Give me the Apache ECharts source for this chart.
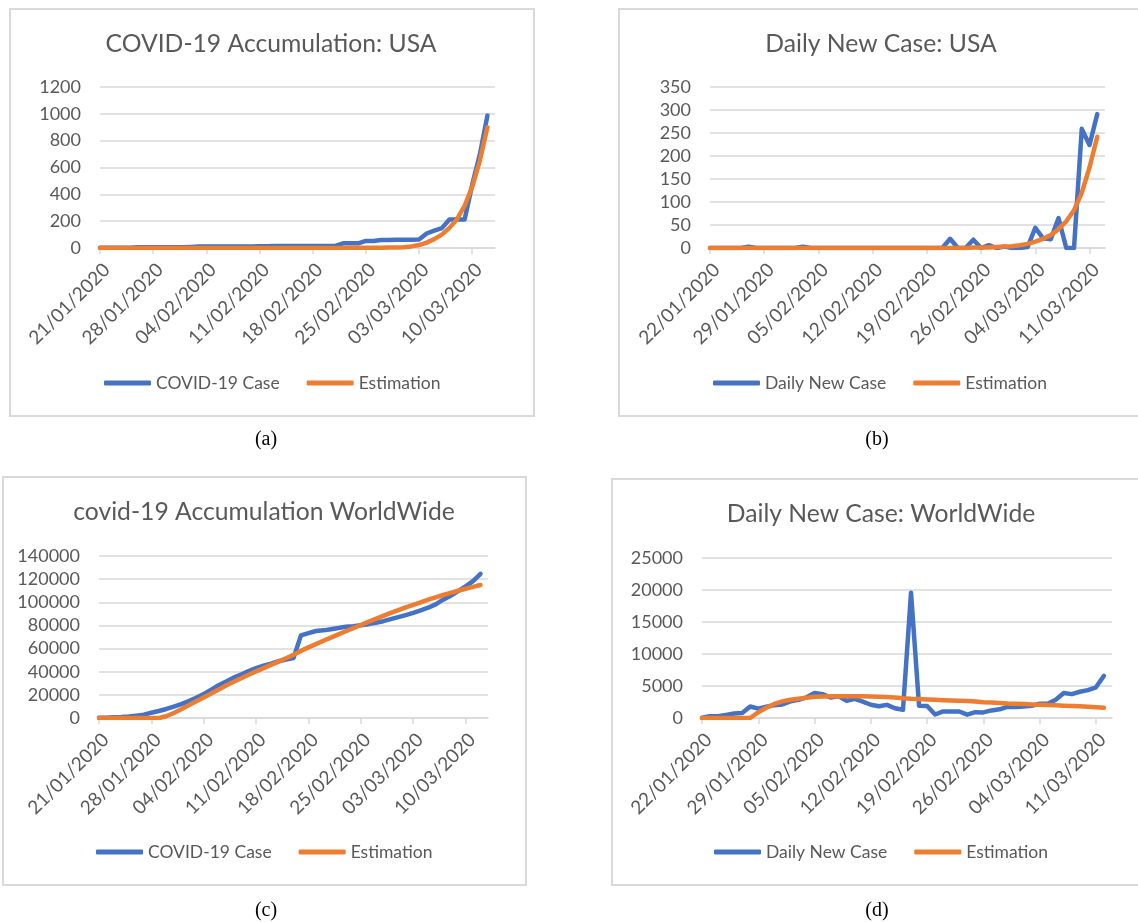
<!DOCTYPE html>
<html>
<head>
<meta charset="utf-8">
<title>COVID-19 cases and estimation</title>
<script src="https://cdn.jsdelivr.net/npm/echarts@6.0.0/dist/echarts.min.js"></script>
<style>
    html, body { margin: 0; padding: 0; background: #fff; }
    #main { width: 1138px; height: 922px; }
</style>
</head>
<body>
<div id="main"></div>
<script>
    // dates on the horizontal axis, 21/01/2020 .. 13/03/2020
    var days = [
        '21/01/2020','22/01/2020','23/01/2020','24/01/2020','25/01/2020','26/01/2020','27/01/2020',
        '28/01/2020','29/01/2020','30/01/2020','31/01/2020','01/02/2020','02/02/2020','03/02/2020',
        '04/02/2020','05/02/2020','06/02/2020','07/02/2020','08/02/2020','09/02/2020','10/02/2020',
        '11/02/2020','12/02/2020','13/02/2020','14/02/2020','15/02/2020','16/02/2020','17/02/2020',
        '18/02/2020','19/02/2020','20/02/2020','21/02/2020','22/02/2020','23/02/2020','24/02/2020',
        '25/02/2020','26/02/2020','27/02/2020','28/02/2020','29/02/2020','01/03/2020','02/03/2020',
        '03/03/2020','04/03/2020','05/03/2020','06/03/2020','07/03/2020','08/03/2020','09/03/2020',
        '10/03/2020','11/03/2020','12/03/2020','13/03/2020'
    ];
    var daysFrom22 = days.slice(1);

    // (a) USA accumulated, from 21/01
    var usTotal = [1,1,1,2,2,5,5,5,5,5,6,6,8,11,11,11,11,11,12,12,12,13,13,14,15,15,15,15,15,15,
        15,15,35,35,35,53,53,59,59,62,62,62,64,108,129,148,213,213,213,472,696,987];
    var usTotalFit = [0,0,0,0,0,0,0,0,0,0,0,0,0,0,0,0,0,0,0,0,0,0,0,0,0,0,0,0,0,0,
        0,0,0,1,1,1,1,2,3,4,6,12,22,40,66,100,150,215,315,455,650,900];

    // (b) USA daily new, from 22/01
    var usDaily = [0,0,0,0,0,3,0,0,0,0,0,0,3,0,0,0,0,0,0,0,0,0,0,0,0,0,0,0,0,0,
        0,20,0,0,18,0,6,0,3,0,0,2,44,21,19,65,0,0,259,224,291];
    var usDailyFit = [0,0,0,0,0,0,0,0,0,0,0,0,0,0,0,0,0,0,0,0,0,0,0,0,0,0,0,0,0,0,
        0,0,0,0,1,1,1,2,3,4,6,9,14,20,28,41,58,82,120,175,242];

    // (c) worldwide accumulated, from 21/01
    var worldTotal = [282,314,581,846,1320,2014,2798,4593,6065,7818,9826,11953,14557,17391,
        20630,24554,28276,31481,34886,37558,40554,43103,45171,46997,49053,50580,51857,71429,
        73332,75204,75748,76769,77794,78811,79331,80239,81109,82294,83652,85403,87137,88948,
        90869,93090,95324,98192,102244,105586,109577,113702,118319,124519];
    var worldTotalFit = [0,0,0,0,0,0,0,0,0,1500,4300,7600,11000,14400,17800,21200,24600,28000,
        31300,34400,37400,40300,43100,45900,48700,51600,54600,58000,61000,63800,66700,69500,
        72300,75000,77700,80400,83000,85700,88300,90900,93200,95500,97800,100000,102200,104300,
        106300,108200,110000,111700,113300,114900];

    // (d) worldwide daily new, from 22/01
    var worldDaily = [32,267,265,474,694,784,1795,1472,1753,2008,2127,2604,2834,3239,3924,3722,
        3205,3405,2672,2996,2549,2068,1826,2056,1527,1277,19572,1903,1872,544,1021,1025,1017,
        520,908,870,1185,1358,1751,1734,1811,1921,2221,2234,2868,3900,3730,4100,4350,4800,6600];
    var worldDailyFit = [0,0,0,0,0,0,0,900,1600,2200,2600,2850,3000,3150,3330,3370,3390,3400,
        3400,3390,3380,3360,3330,3280,3220,3080,3000,2950,2900,2840,2790,2750,2700,2650,2590,
        2470,2410,2360,2260,2220,2170,2120,2080,2030,1980,1930,1880,1820,1750,1690,1600];

    var textColor = '#595959';
    var gridColor = '#d9d9d9';
    var blue = '#4472c4';
    var orange = '#ed7d31';
    var font = 'Lato';

    // one entry per panel: box, plot area, title, legend, caption
    var panels = [
        {title: 'COVID-19 Accumulation: USA', tx: 271, ty: 32, box: [10, 9, 524, 407],
         grid: {left: 100, top: 87, width: 395, height: 161}, cats: days, max: 1200, step: 200,
         names: ['COVID-19 Case', 'Estimation'], data: [usTotal, usTotalFit],
         lx: 104, ly: 374, cap: '(a)', cx: 266, cy: 440},
        {title: 'Daily New Case: USA', tx: 881, ty: 32, box: [619, 9, 530, 407],
         grid: {left: 710, top: 87, width: 395, height: 161}, cats: daysFrom22, max: 350, step: 50,
         names: ['Daily New Case', 'Estimation'], data: [usDaily, usDailyFit],
         lx: 713, ly: 374, cap: '(b)', cx: 877, cy: 440},
        {title: 'covid-19 Accumulation WorldWide', tx: 264, ty: 500, box: [3, 477, 523, 408],
         grid: {left: 99, top: 556, width: 389, height: 162}, cats: days, max: 140000, step: 20000,
         names: ['COVID-19 Case', 'Estimation'], data: [worldTotal, worldTotalFit],
         lx: 96, ly: 843, cap: '(c)', cx: 266, cy: 911},
        {title: 'Daily New Case: WorldWide', tx: 881, ty: 502, box: [612, 479, 540, 406],
         grid: {left: 702, top: 558, width: 410, height: 160}, cats: daysFrom22, max: 25000, step: 5000,
         names: ['Daily New Case', 'Estimation'], data: [worldDaily, worldDailyFit],
         lx: 714, ly: 843, cap: '(d)', cx: 877, cy: 911}
    ];

    var option = {
        animation: false,
        backgroundColor: '#fff',
        title: [], grid: [], xAxis: [], yAxis: [], legend: [], series: [], graphic: []
    };

    panels.forEach(function (p, i) {
        option.graphic.push({
            type: 'rect', silent: true, z: -1,
            shape: {x: p.box[0], y: p.box[1], width: p.box[2], height: p.box[3]},
            style: {fill: 'none', stroke: gridColor, lineWidth: 2}
        });
        option.graphic.push({
            type: 'text', silent: true, x: p.cx, y: p.cy,
            style: {text: p.cap, fill: '#000', font: '20px "Liberation Serif"',
                textAlign: 'center', textVerticalAlign: 'middle'}
        });
        option.title.push({
            text: p.title, left: p.tx, top: p.ty, textAlign: 'center', padding: 0,
            textStyle: {color: textColor, fontFamily: font, fontSize: 24.7, fontWeight: 'normal'}
        });
        option.grid.push(p.grid);
        option.xAxis.push({
            type: 'category', gridIndex: i, data: p.cats, boundaryGap: false,
            axisLine: {lineStyle: {color: gridColor, width: 1.5}},
            axisTick: {interval: 6, length: 6, lineStyle: {color: gridColor, width: 1.5}},
            axisLabel: {interval: 6, rotate: 45, margin: 12, verticalAlign: 'top',
                color: textColor, fontFamily: font, fontSize: 19},
            splitLine: {show: false}
        });
        option.yAxis.push({
            type: 'value', gridIndex: i, min: 0, max: p.max, interval: p.step,
            axisLine: {show: false}, axisTick: {show: false},
            axisLabel: {margin: 19, color: textColor, fontFamily: font, fontSize: 18,
                formatter: function (v) { return String(v); }},
            splitLine: {lineStyle: {color: gridColor, width: 1.5}}
        });
        option.legend.push({
            left: p.lx, top: p.ly, padding: 0, itemGap: 27,
            icon: 'roundRect', itemWidth: 47, itemHeight: 5,
            data: p.names,
            textStyle: {color: textColor, fontFamily: font, fontSize: 17.5}
        });
        [blue, orange].forEach(function (c, k) {
            option.series.push({
                name: p.names[k], type: 'line', xAxisIndex: i, yAxisIndex: i,
                data: p.data[k], showSymbol: false, symbol: 'none',
                color: c,
                lineStyle: {color: c, width: 4.5, cap: 'round', join: 'round'},
                emphasis: {disabled: true}
            });
        });
    });

    var chart = echarts.init(document.getElementById('main'));
    chart.setOption(option);
</script>
</body>
</html>
